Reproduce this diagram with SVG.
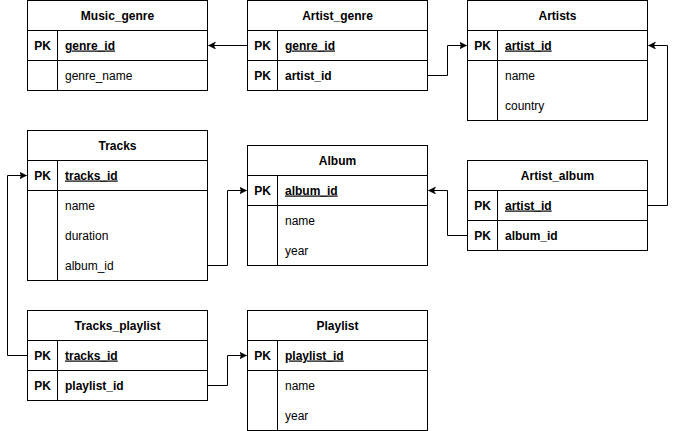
<svg xmlns="http://www.w3.org/2000/svg" width="676" height="431" viewBox="0 0 676 431">
<style>
.box{fill:#fff;stroke:#000;stroke-width:1}
.ln{stroke:#000;stroke-width:1;fill:none}
text{font-family:"Liberation Sans",Arial,sans-serif;font-size:12px;fill:#000}
.h{font-weight:bold;text-anchor:middle}
.pk{font-weight:bold;text-anchor:middle}
.k{font-weight:bold;text-decoration:underline}
.b{font-weight:bold}
.conn{stroke:#000;stroke-width:1;fill:none;marker-end:url(#arr)}
</style>
<defs>
<marker id="arr" markerWidth="10" markerHeight="10" refX="7" refY="3.5" orient="auto" markerUnits="userSpaceOnUse" viewBox="0 0 10 10">
<path d="M0,0 L7,3.5 L0,7 L1.8,3.5 Z" fill="#000" stroke="#000" stroke-width="0.5"/>
</marker>
</defs>

<g id="connectors">
<path class="conn" d="M247.5,45.5 L208.5,45.5"/>
<path class="conn" d="M427.5,75.5 L447.5,75.5 L447.5,45.5 L466.5,45.5"/>
<path class="conn" d="M647.5,205.5 L667.5,205.5 L667.5,45.5 L648.5,45.5"/>
<path class="conn" d="M467.5,235.5 L447.5,235.5 L447.5,190.5 L428.5,190.5"/>
<path class="conn" d="M207.5,265.5 L227.5,265.5 L227.5,190.5 L246.5,190.5"/>
<path class="conn" d="M27.5,355.5 L7.5,355.5 L7.5,175.5 L26.5,175.5"/>
<path class="conn" d="M207.5,385.5 L227.5,385.5 L227.5,355.5 L246.5,355.5"/>
</g>

<g id="Music_genre">
<rect class="box" x="27.5" y="0.5" width="180" height="90"/>
<path class="ln" d="M27.5,30.5 H207.5 M27.5,60.5 H207.5 M57.5,30.5 V90.5"/>
<text class="h" x="117.5" y="19.5">Music_genre</text>
<text class="pk" x="42.5" y="49.5">PK</text>
<text class="k" x="65" y="49.5">genre_id</text>
<text x="65" y="79.5">genre_name</text>
</g>

<g id="Artist_genre">
<rect class="box" x="247.5" y="0.5" width="180" height="90"/>
<path class="ln" d="M247.5,30.5 H427.5 M247.5,60.5 H427.5 M277.5,30.5 V90.5"/>
<text class="h" x="337.5" y="19.5">Artist_genre</text>
<text class="pk" x="262.5" y="49.5">PK</text>
<text class="k" x="285" y="49.5">genre_id</text>
<text class="pk" x="262.5" y="79.5">PK</text>
<text class="b" x="285" y="79.5">artist_id</text>
</g>

<g id="Artists">
<rect class="box" x="467.5" y="0.5" width="180" height="120"/>
<path class="ln" d="M467.5,30.5 H647.5 M467.5,60.5 H647.5 M497.5,30.5 V120.5"/>
<text class="h" x="557.5" y="19.5">Artists</text>
<text class="pk" x="482.5" y="49.5">PK</text>
<text class="k" x="505" y="49.5">artist_id</text>
<text x="505" y="79.5">name</text>
<text x="505" y="109.5">country</text>
</g>

<g id="Tracks">
<rect class="box" x="27.5" y="130.5" width="180" height="150"/>
<path class="ln" d="M27.5,160.5 H207.5 M27.5,190.5 H207.5 M57.5,160.5 V280.5"/>
<text class="h" x="117.5" y="149.5">Tracks</text>
<text class="pk" x="42.5" y="179.5">PK</text>
<text class="k" x="65" y="179.5">tracks_id</text>
<text x="65" y="209.5">name</text>
<text x="65" y="239.5">duration</text>
<text x="65" y="269.5">album_id</text>
</g>

<g id="Album">
<rect class="box" x="247.5" y="145.5" width="180" height="120"/>
<path class="ln" d="M247.5,175.5 H427.5 M247.5,205.5 H427.5 M277.5,175.5 V265.5"/>
<text class="h" x="337.5" y="164.5">Album</text>
<text class="pk" x="262.5" y="194.5">PK</text>
<text class="k" x="285" y="194.5">album_id</text>
<text x="285" y="224.5">name</text>
<text x="285" y="254.5">year</text>
</g>

<g id="Artist_album">
<rect class="box" x="467.5" y="160.5" width="180" height="90"/>
<path class="ln" d="M467.5,190.5 H647.5 M467.5,220.5 H647.5 M497.5,190.5 V250.5"/>
<text class="h" x="557.5" y="179.5">Artist_album</text>
<text class="pk" x="482.5" y="209.5">PK</text>
<text class="k" x="505" y="209.5">artist_id</text>
<text class="pk" x="482.5" y="239.5">PK</text>
<text class="b" x="505" y="239.5">album_id</text>
</g>

<g id="Tracks_playlist">
<rect class="box" x="27.5" y="310.5" width="180" height="90"/>
<path class="ln" d="M27.5,340.5 H207.5 M27.5,370.5 H207.5 M57.5,340.5 V400.5"/>
<text class="h" x="117.5" y="329.5">Tracks_playlist</text>
<text class="pk" x="42.5" y="359.5">PK</text>
<text class="k" x="65" y="359.5">tracks_id</text>
<text class="pk" x="42.5" y="389.5">PK</text>
<text class="b" x="65" y="389.5">playlist_id</text>
</g>

<g id="Playlist">
<rect class="box" x="247.5" y="310.5" width="180" height="120"/>
<path class="ln" d="M247.5,340.5 H427.5 M247.5,370.5 H427.5 M277.5,340.5 V430.5"/>
<text class="h" x="337.5" y="329.5">Playlist</text>
<text class="pk" x="262.5" y="359.5">PK</text>
<text class="k" x="285" y="359.5">playlist_id</text>
<text x="285" y="389.5">name</text>
<text x="285" y="419.5">year</text>
</g>
</svg>
